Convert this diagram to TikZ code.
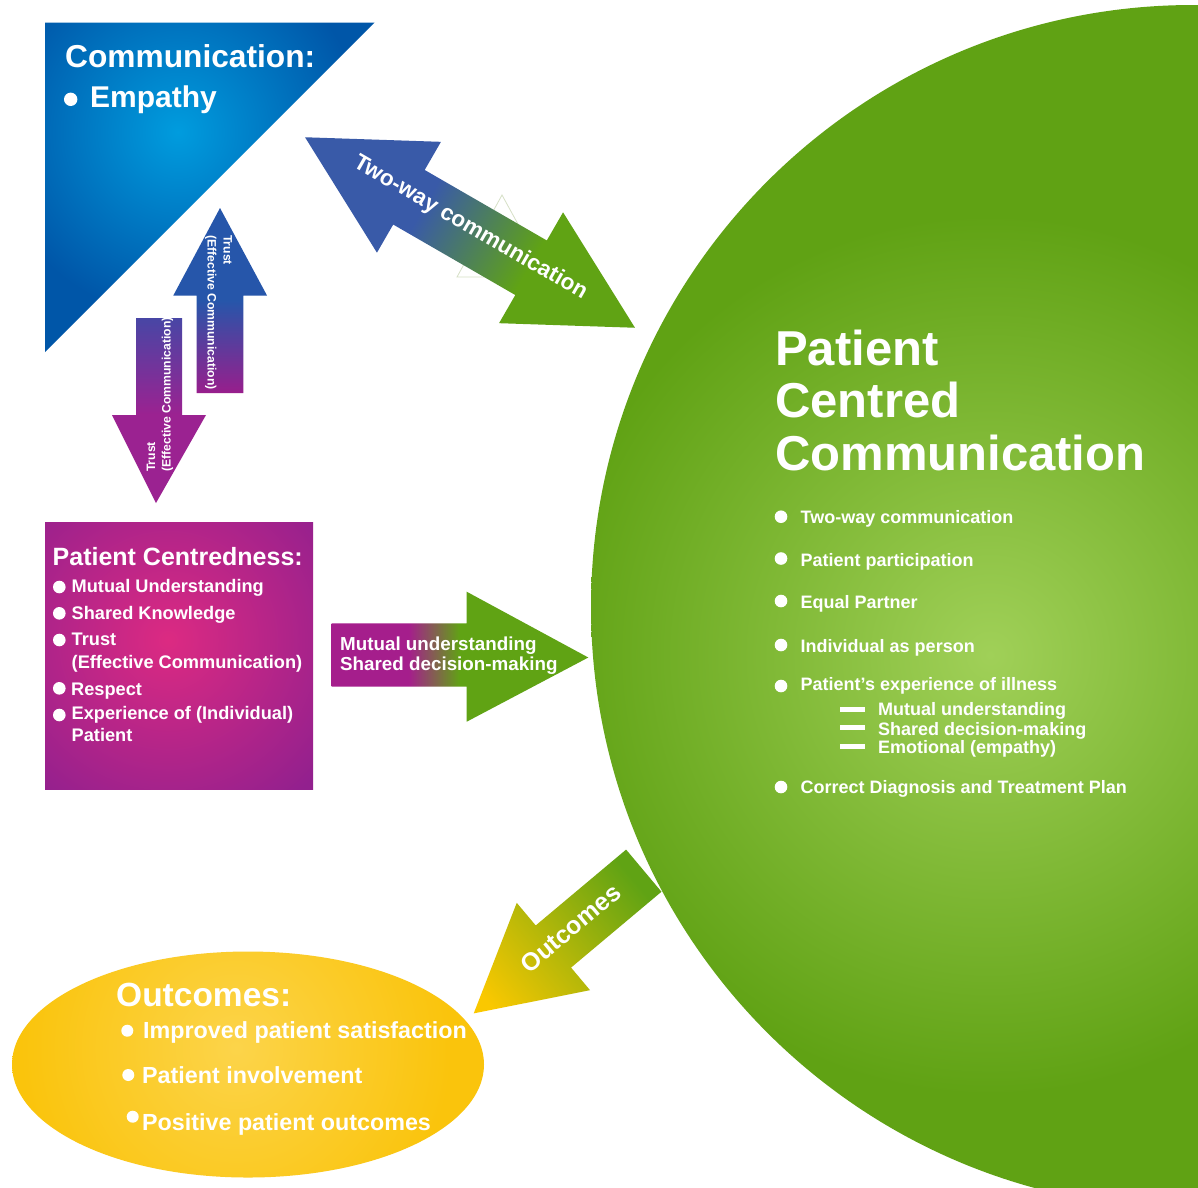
\documentclass[tikz,border=0pt]{standalone}
\usepackage{fontspec}
\setmainfont{Liberation Sans}
\usetikzlibrary{calc}

% palette
\definecolor{triDark}{RGB}{0,86,168}
\definecolor{triLight}{RGB}{0,156,222}
\definecolor{twBlue}{RGB}{57,90,168}
\definecolor{arGreen}{RGB}{96,163,20}
\definecolor{upBlue}{RGB}{38,86,170}
\definecolor{upPurple}{RGB}{152,30,140}
\definecolor{dnBlue}{RGB}{72,70,165}
\definecolor{dnPurple}{RGB}{155,34,145}
\definecolor{boxDark}{RGB}{146,32,142}
\definecolor{boxLight}{RGB}{220,42,130}
\definecolor{muPurple}{RGB}{165,30,140}
\definecolor{pcDark}{RGB}{96,162,20}
\definecolor{pcLight}{RGB}{160,208,88}
\definecolor{ocDark}{RGB}{250,196,12}
\definecolor{ocLight}{RGB}{252,212,74}
\definecolor{ocYellow}{RGB}{250,200,0}
\definecolor{ghost}{RGB}{214,224,198}

% gradients along the block arrows
\pgfdeclarehorizontalshading{twowayshade}{100bp}{color(0bp)=(twBlue); color(43bp)=(twBlue); color(59bp)=(arGreen); color(100bp)=(arGreen)}
\pgfdeclarehorizontalshading{mutualshade}{100bp}{color(0bp)=(muPurple); color(40bp)=(muPurple); color(50bp)=(arGreen); color(100bp)=(arGreen)}
\pgfdeclarehorizontalshading{outcomeshade}{100bp}{color(0bp)=(ocYellow); color(29bp)=(ocYellow); color(72bp)=(arGreen); color(100bp)=(arGreen)}
\pgfdeclareverticalshading{upshade}{100bp}{color(0bp)=(upPurple); color(25bp)=(upPurple); color(50bp)=(upBlue); color(100bp)=(upBlue)}
\pgfdeclareverticalshading{downshade}{100bp}{color(0bp)=(dnPurple); color(49bp)=(dnPurple); color(75bp)=(dnBlue); color(100bp)=(dnBlue)}

% soft glows; the shaded circle has radius 25bp, the glow fades out at 12.5bp
\pgfdeclareradialshading{discglow}{\pgfpoint{0bp}{0bp}}{color(0bp)=(pcLight); color(12.5bp)=(pcDark); color(25bp)=(pcDark); color(50bp)=(pcDark)}
\pgfdeclareradialshading{triglow}{\pgfpoint{0bp}{0bp}}{color(0bp)=(triLight); color(12.5bp)=(triDark); color(25bp)=(triDark); color(50bp)=(triDark)}
\pgfdeclareradialshading{boxglow}{\pgfpoint{0bp}{0bp}}{color(0bp)=(boxLight); color(12.5bp)=(boxDark); color(25bp)=(boxDark); color(50bp)=(boxDark)}
\pgfdeclareradialshading{ovalglow}{\pgfpoint{0bp}{0bp}}{color(0bp)=(ocLight); color(12.5bp)=(ocDark); color(25bp)=(ocDark); color(50bp)=(ocDark)}

\newcommand{\hb}[1]{\bfseries\fontsize{#1}{#1}\selectfont}

\tikzset{
  lbl/.style={text=white, inner sep=0pt, anchor=base west},
  dot/.style={fill=white},
  bar/.style={fill=white},
}

\begin{document}
\begin{tikzpicture}[x=1pt,y=-1pt]
\useasboundingbox (0,0) rectangle (1198,1187);
\fill[white] (0,0) rectangle (1198,1187);

\begin{scope}
\clip (0,0) rectangle (1198,1187);

% ---- big green disc
\begin{scope}
  \clip (1193,607) circle (602pt);
  \shade[shading=discglow] (990,655) circle (880pt);
\end{scope}

% ---- blue corner triangle
\begin{scope}
  \clip (45,22.5) -- (374.5,22.5) -- (45,352) -- cycle;
  \shade[shading=triglow] (178,132) circle (370pt);
\end{scope}

% ---- purple box
\begin{scope}
  \clip (45,522.5) rectangle (313,789);
  \shade[shading=boxglow] (168,640) circle (400pt);
\end{scope}

% ---- yellow ellipse
\begin{scope}
  \clip (248,1064.5) ellipse [x radius=236pt, y radius=113pt];
  \shade[shading=ovalglow] (236,1048) circle (430pt);
\end{scope}

% ---- faint outline behind the double arrow
\draw[ghost, line width=0.8pt] (502,195) -- (547,277) -- (457,277) -- cycle;

% ---- double arrow between triangle and disc
\begin{scope}[transform canvas={shift={(470,232.5)}, rotate=-30}]
  \shade[shading=twowayshade]
    (-190.5,0) -- (-70.5,-64) -- (-70.5,-31.5) -- (70.5,-31.5) -- (70.5,-64)
    -- (190.5,0) -- (70.5,64) -- (70.5,31.5) -- (-70.5,31.5) -- (-70.5,64) -- cycle;
\end{scope}
\node[text=white, inner sep=0pt, rotate=-30, font=\hb{22.5}] (twtxt) at (470.3,228) {Two-way communication};

% ---- upward arrow
\shade[shading=upshade] (220,208) -- (267,295.5) -- (243.3,295.5) -- (243.3,393)
  -- (196.7,393) -- (196.7,295.5) -- (173.3,295.5) -- cycle;
\node[lbl, rotate=-90, font=\hb{12.2}] (uptrust) at (223.5,235) {Trust};
\node[lbl, rotate=-90, font=\hb{12.2}] (upeff) at (207.5,235) {(Effective Communication)};

% ---- downward arrow
\shade[shading=downshade] (136,318) -- (182,318) -- (182,415) -- (206,415)
  -- (156,503) -- (112,415) -- (136,415) -- cycle;
\node[lbl, rotate=90, font=\hb{12.2}] (dntrust) at (155,472) {Trust};
\node[lbl, rotate=90, font=\hb{12.2}] (dneff) at (170.5,472) {(Effective Communication)};

% ---- arrow from box to disc
\shade[shading=mutualshade] (331.7,623.3) -- (466.7,623.3) -- (466.7,591.7) -- (588.3,657.5)
  -- (466.7,721.7) -- (466.7,686.7) -- (331.7,686.7) -- cycle;
\node[lbl, font=\hb{18.8}] (mu1) at (340,650.5) {Mutual understanding};
\node[lbl, font=\hb{18.8}] (mu2) at (340,670) {Shared decision-making};

% ---- arrow from disc to outcomes
\begin{scope}[transform canvas={shift={(558.75,942)}, rotate=40}]
  \shade[shading=outcomeshade]
    (-111,0) -- (-7,-57) -- (-7,-27.5) -- (111,-27.5) -- (111,27.5) -- (-7,27.5) -- (-7,57) -- cycle;
\end{scope}
\node[text=white, inner sep=0pt, rotate=40, font=\hb{25}] (octxt) at (570.6,928.1) {Outcomes};

% ---- triangle text
\node[lbl, font=\hb{31.7}] (commhead) at (65,67) {Communication:};
\fill[dot] (70.7,99.3) circle (6.7pt);
\node[lbl, font=\hb{30}] (empathy) at (90,107.5) {Empathy};

% ---- box text
\node[lbl, font=\hb{25}] (pchead) at (52.5,565) {Patient Centredness:};
\foreach \yy in {587,613.3,640,688.3,715} \fill[dot] (59.3,\yy) circle (6.3pt);
\node[lbl, font=\hb{18.2}] (pc1) at (71.5,592) {Mutual Understanding};
\node[lbl, font=\hb{18.2}] (pc2) at (71.5,619) {Shared Knowledge};
\node[lbl, font=\hb{18.2}] (pc3) at (71.5,645.7) {Trust};
\node[lbl, font=\hb{18.2}] (pc4) at (71.5,668) {(Effective Communication)};
\node[lbl, font=\hb{18.2}] (pc5) at (71,695) {Respect};
\node[lbl, font=\hb{18.2}] (pc6) at (71.5,719) {Experience of (Individual)};
\node[lbl, font=\hb{18.2}] (pc7) at (71.5,741.7) {Patient};

% ---- disc text
\node[lbl, font=\hb{49}] (t1) at (775,365) {Patient};
\node[lbl, font=\hb{49}] (t2) at (775,417) {Centred};
\node[lbl, font=\hb{49}] (t3) at (775,470) {Communication};
\foreach \yy in {516.7,558.5,601,645,686,787} \fill[dot] (781,\yy) circle (6.3pt);
\node[lbl, font=\hb{18}] (c1) at (800.5,523.3) {Two-way communication};
\node[lbl, font=\hb{18}] (c2) at (800.5,566) {Patient participation};
\node[lbl, font=\hb{18}] (c3) at (800.5,608) {Equal Partner};
\node[lbl, font=\hb{18}] (c4) at (800.5,652) {Individual as person};
\node[lbl, font=\hb{18}] (c5) at (800.5,690.7) {Patient’s experience of illness};
\foreach \yy in {709.3,727.3,746} \fill[bar] (840,\yy-2.5) rectangle (865,\yy+2.5);
\node[lbl, font=\hb{18}] (s1) at (878,715) {Mutual understanding};
\node[lbl, font=\hb{18}] (s2) at (878,735) {Shared decision-making};
\node[lbl, font=\hb{18}] (s3) at (878,753) {Emotional (empathy)};
\node[lbl, font=\hb{18}] (c6) at (800.5,793) {Correct Diagnosis and Treatment Plan};

% ---- ellipse text
\node[lbl, font=\hb{33.5}] (octitle) at (116,1006.5) {Outcomes:};
\fill[dot] (127.3,1030.7) circle (6pt);
\fill[dot] (128.3,1075) circle (6pt);
\fill[dot] (132.7,1116.7) circle (6pt);
\node[lbl, font=\hb{23.3}] (oc1) at (143,1038.3) {Improved patient satisfaction};
\node[lbl, font=\hb{23.3}] (oc2) at (142,1083.3) {Patient involvement};
\node[lbl, font=\hb{23.3}] (oc3) at (142,1130) {Positive patient outcomes};
\end{scope}
\end{tikzpicture}
\end{document}
